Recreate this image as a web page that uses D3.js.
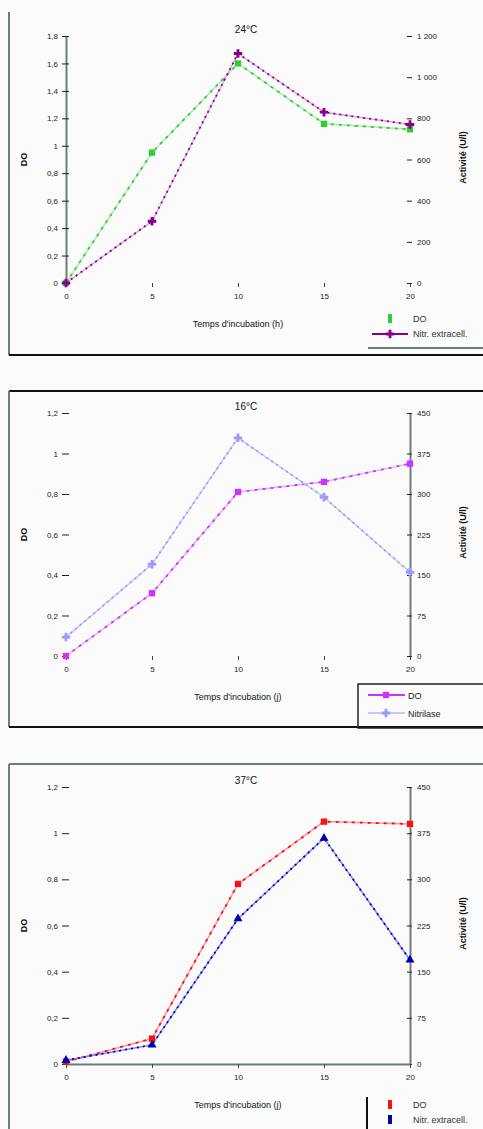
<!DOCTYPE html>
<html>
<head>
<meta charset="utf-8">
<script src="https://cdn.jsdelivr.net/npm/d3@7"></script>
<style>
body { margin: 0; background: #fbfbfb; }
svg { display: block; font-family: "Liberation Sans", Arial, sans-serif; }
</style>
</head>
<body>
<script>
// sampling times
var times = [0, 5, 10, 15, 20];

// 24 C panel
var do24 = [0, 0.95, 1.6, 1.16, 1.12];
var act24 = [0, 300, 1115, 830, 770];
var left24 = [0, 0.2, 0.4, 0.6, 0.8, 1, 1.2, 1.4, 1.6, 1.8];
var right24 = [0, 200, 400, 600, 800, 1000, 1200];

// 16 C panel
var do16 = [0, 0.31, 0.81, 0.86, 0.95];
var act16 = [35, 170, 404, 294, 155];

// 37 C panel
var do37 = [0.01, 0.11, 0.78, 1.05, 1.04];
var act37 = [6, 31, 236, 367, 169];

var leftTicks = [0, 0.2, 0.4, 0.6, 0.8, 1, 1.2];
var rightTicks = [0, 75, 150, 225, 300, 375, 450];
var xTicks = [0, 5, 10, 15, 20];

var fr = d3.formatLocale({decimal: ",", thousands: " ", grouping: [3], currency: ["", ""]});
var fmtL = fr.format("~g");
var fmtR = fr.format(",");

var svg = d3.select("body").append("svg")
	.attr("width", 483)
	.attr("height", 1129);

var axisCol = "#6f7c7c";

var panels = [
	{top: 12, bottom: 355, y0: 283, y1: 36, title: "24°C", xTitle: "Temps d'incubation (h)",
	 dox: do24, act: act24, lt: left24, rt: right24, lmax: 1.8, rmax: 1200,
	 doCol: "#33cc33", doLight: "#a8eea8", actCol: "#880088", actLight: "#e0a0e8",
	 actSym: "plus", showLeft: true, showRight: false, showX: false,
	 legend: "line", legY: 318, legName: "Nitr. extracell.", topBorder: false, bCol: "#111"},
	{top: 391, bottom: 727, y0: 656, y1: 413, title: "16°C", xTitle: "Temps d'incubation (j)",
	 dox: do16, act: act16, lt: leftTicks, rt: rightTicks, lmax: 1.2, rmax: 450,
	 doCol: "#cc33ff", doLight: "#e8a8ff", actCol: "#9999ff", actLight: "#c8c8ff",
	 actSym: "plus", showLeft: false, showRight: true, showX: false,
	 legend: "box", legY: 695, legName: "Nitrilase", topBorder: true, bCol: "#111"},
	{top: 764, bottom: 1140, y0: 1064, y1: 787, title: "37°C", xTitle: "Temps d'incubation (j)",
	 dox: do37, act: act37, lt: leftTicks, rt: rightTicks, lmax: 1.2, rmax: 450,
	 doCol: "#ff1010", doLight: "#ff90a8", actCol: "#0000aa", actLight: "#8080ff",
	 actSym: "tri", showLeft: false, showRight: true, showX: true,
	 legend: "bar", legY: 1105, legName: "Nitr. extracell.", topBorder: true, bCol: "#6f7c7c"}
];

panels.forEach(function(p) {
	var g = svg.append("g");

	// frame
	if (p.topBorder) {
		g.append("line").attr("x1", 9).attr("x2", 483).attr("y1", p.top).attr("y2", p.top)
			.attr("stroke", p.bCol).attr("stroke-width", 2);
	}
	g.append("line").attr("x1", 9).attr("x2", 9).attr("y1", p.top).attr("y2", p.bottom)
		.attr("stroke", axisCol).attr("stroke-width", 2);
	g.append("line").attr("x1", 9).attr("x2", 483).attr("y1", p.bottom).attr("y2", p.bottom)
		.attr("stroke", "#111").attr("stroke-width", 2);

	var x = d3.scaleLinear().domain([0, 20]).range([66, 410]);
	var yl = d3.scaleLinear().domain([0, p.lmax]).range([p.y0, p.y1]);
	var yr = d3.scaleLinear().domain([0, p.rmax]).range([p.y0, p.y1]);

	// left axis
	var la = g.append("g").attr("transform", "translate(66,0)")
		.call(d3.axisLeft(yl).tickValues(p.lt).tickFormat(fmtL).tickSizeInner(4).tickSizeOuter(0));
	la.selectAll(".tick line").attr("stroke", "#222").attr("x2", 3).attr("x1", -4);
	la.select(".domain").attr("stroke", p.showLeft ? axisCol : "none").attr("stroke-width", 2);
	la.selectAll("text").attr("font-size", 8).attr("fill", "#222").attr("x", -8);

	// right axis
	var ra = g.append("g").attr("transform", "translate(410,0)")
		.call(d3.axisRight(yr).tickValues(p.rt).tickFormat(fmtR).tickSizeInner(4).tickSizeOuter(0));
	ra.selectAll(".tick line").attr("stroke", "#222").attr("x1", -3).attr("x2", 2);
	ra.select(".domain").attr("stroke", p.showRight ? axisCol : "none").attr("stroke-width", 2);
	ra.selectAll("text").attr("font-size", 8).attr("fill", "#222").attr("x", 7);

	// x axis
	var xa = g.append("g").attr("transform", "translate(0," + p.y0 + ")")
		.call(d3.axisBottom(x).tickValues(xTicks).tickSizeInner(4).tickSizeOuter(0));
	xa.selectAll(".tick line").attr("stroke", "#444");
	xa.select(".domain").attr("stroke", p.showX ? axisCol : "none").attr("stroke-width", 2);
	xa.selectAll("text").attr("font-size", 8).attr("fill", "#222").attr("y", 10);

	// titles
	g.append("text").attr("x", 246).attr("y", p.y1 - 3).attr("text-anchor", "middle")
		.attr("font-size", 10).attr("fill", "#111").text(p.title);
	g.append("text").attr("x", 238).attr("y", p.y0 + 44).attr("text-anchor", "middle")
		.attr("font-size", 9).attr("fill", "#111").text(p.xTitle);
	var ym = (p.y0 + p.y1) / 2;
	g.append("text").attr("transform", "translate(27," + ym + ") rotate(-90)")
		.attr("text-anchor", "middle").attr("font-size", 9).attr("font-weight", "bold")
		.attr("fill", "#111").text("DO");
	g.append("text").attr("transform", "translate(466," + (ym - 2) + ") rotate(-90)")
		.attr("text-anchor", "middle").attr("font-size", 9).attr("font-weight", "bold")
		.attr("fill", "#111").text("Activité (U/l)");

	var doPts = times.map(function(t, i) { return [x(t), yl(p.dox[i])]; });
	var actPts = times.map(function(t, i) { return [x(t), yr(p.act[i])]; });
	var line = d3.line();

	function drawSeries(pts, light, dark, dash) {
		g.append("path").attr("d", line(pts)).attr("fill", "none")
			.attr("stroke", light).attr("stroke-width", 1.5);
		g.append("path").attr("d", line(pts)).attr("fill", "none")
			.attr("stroke", dark).attr("stroke-width", 1.8).attr("stroke-dasharray", dash);
	}
	drawSeries(doPts, p.doLight, p.doCol, "3,5");
	drawSeries(actPts, p.actLight, p.actCol, "2,4");

	var sq = d3.symbol().type(d3.symbolSquare).size(40);
	var pl = d3.symbol().type(d3.symbolCross).size(40);
	var tr = d3.symbol().type(d3.symbolTriangle).size(35);

	g.selectAll(".dom").data(doPts).enter().append("path")
		.attr("transform", function(d) { return "translate(" + d[0] + "," + d[1] + ")"; })
		.attr("d", sq).attr("fill", p.doCol);
	g.selectAll(".act").data(actPts).enter().append("path")
		.attr("transform", function(d) { return "translate(" + d[0] + "," + d[1] + ")"; })
		.attr("d", p.actSym == "plus" ? pl : tr).attr("fill", p.actCol);

	// legend
	var ly = p.legY;
	if (p.legend == "line") {
		g.append("line").attr("x1", 368).attr("x2", 483).attr("y1", ly + 30).attr("y2", ly + 30)
			.attr("stroke", axisCol).attr("stroke-width", 2);
		g.append("rect").attr("x", 388).attr("y", ly - 4).attr("width", 4).attr("height", 9).attr("fill", p.doCol);
		g.append("line").attr("x1", 372).attr("x2", 408).attr("y1", ly + 16).attr("y2", ly + 16)
			.attr("stroke", p.actCol).attr("stroke-width", 2);
		g.append("path").attr("transform", "translate(390," + (ly + 16) + ")").attr("d", pl).attr("fill", p.actCol);
		g.append("text").attr("x", 413).attr("y", ly + 4).attr("font-size", 9).attr("fill", "#333").text("DO");
		g.append("text").attr("x", 413).attr("y", ly + 19).attr("font-size", 9).attr("fill", "#333").text(p.legName);
	} else if (p.legend == "box") {
		g.append("rect").attr("x", 358).attr("y", ly - 11).attr("width", 130).attr("height", 44)
			.attr("fill", "none").attr("stroke", "#222").attr("stroke-width", 1.5);
		g.append("line").attr("x1", 368).attr("x2", 405).attr("y1", ly).attr("y2", ly)
			.attr("stroke", p.doCol).attr("stroke-width", 2);
		g.append("path").attr("transform", "translate(386," + ly + ")").attr("d", sq).attr("fill", p.doCol);
		g.append("line").attr("x1", 368).attr("x2", 405).attr("y1", ly + 18).attr("y2", ly + 18)
			.attr("stroke", p.actLight).attr("stroke-width", 2);
		g.append("path").attr("transform", "translate(386," + (ly + 18) + ")").attr("d", pl).attr("fill", p.actCol);
		g.append("text").attr("x", 408).attr("y", ly + 4).attr("font-size", 9).attr("fill", "#222").text("DO");
		g.append("text").attr("x", 408).attr("y", ly + 22).attr("font-size", 9).attr("fill", "#222").text(p.legName);
	} else {
		g.append("line").attr("x1", 367).attr("x2", 367).attr("y1", ly - 8).attr("y2", 1129)
			.attr("stroke", "#111").attr("stroke-width", 2);
		g.append("rect").attr("x", 388).attr("y", ly - 5).attr("width", 4).attr("height", 9).attr("fill", p.doCol);
		g.append("rect").attr("x", 388).attr("y", ly + 10).attr("width", 4).attr("height", 9).attr("fill", p.actCol);
		g.append("text").attr("x", 413).attr("y", ly + 3).attr("font-size", 9).attr("fill", "#333").text("DO");
		g.append("text").attr("x", 413).attr("y", ly + 18).attr("font-size", 9).attr("fill", "#333").text(p.legName);
	}
});
</script>
</body>
</html>
